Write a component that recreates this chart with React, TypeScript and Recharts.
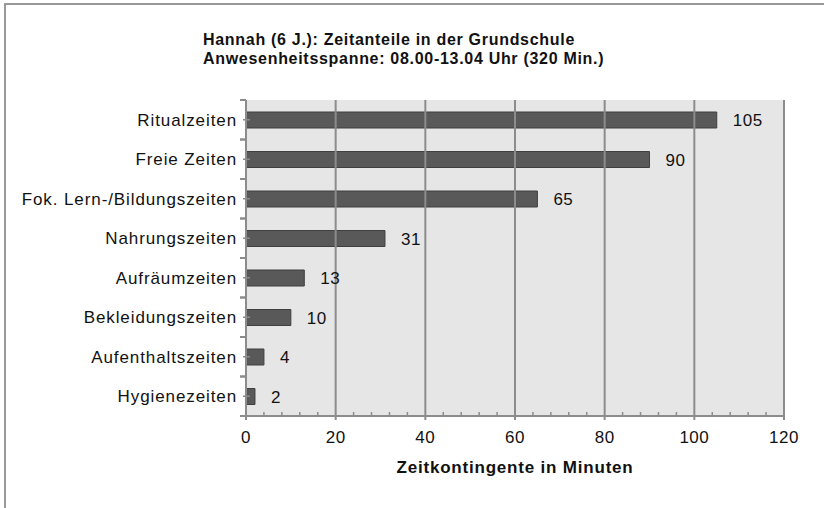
import { BarChart, Bar, XAxis, YAxis, CartesianGrid, ReferenceLine, LabelList } from 'recharts';

const categories = [
  'Ritualzeiten',
  'Freie Zeiten',
  'Fok. Lern-/Bildungszeiten',
  'Nahrungszeiten',
  'Aufräumzeiten',
  'Bekleidungszeiten',
  'Aufenthaltszeiten',
  'Hygienezeiten',
];
const minutes = [105, 90, 65, 31, 13, 10, 4, 2];
const xTicks = [0, 4, 8, 12, 16, 20, 24, 28, 32, 36, 40, 44, 48, 52, 56, 60, 64, 68, 72, 76, 80, 84, 88, 92, 96, 100, 104, 108, 112, 116, 120];
const majorTicks = [20, 40, 60, 80, 100, 120];
const titleLines = ['Hannah (6 J.): Zeitanteile in der Grundschule', 'Anwesenheitsspanne: 08.00-13.04 Uhr (320 Min.)'];
const xLabel = 'Zeitkontingente in Minuten';

const data = categories.map((name, i) => ({ name, value: minutes[i] }));

const W = 824;
const H = 508;
const M = { top: 100, right: 40, bottom: 62, left: 0 };
const YW = 246;
const XH = 30;
const plotH = H - M.top - M.bottom - XH;
const halfBand = plotH / categories.length / 2;

const grey = '#8c8c8c';
const font = "'Liberation Sans', Arial, sans-serif";

const XTick = (props: any) => {
  const { x, y, payload } = props;
  const major = payload.value % 20 === 0;
  return (
    <g>
      {major ? (
        <>
          <line x1={x} x2={x} y1={y} y2={y + 4} stroke={grey} strokeWidth={2} />
          <text x={x} y={y + 27} textAnchor="middle" fontSize={17} letterSpacing={0.5} fill="#111" fontFamily={font}>
            {payload.value}
          </text>
        </>
      ) : (
        <line x1={x} x2={x} y1={y} y2={y - 4} stroke={grey} strokeWidth={1.5} />
      )}
    </g>
  );
};

const YTick = (props: any) => {
  const { x, y, payload } = props;
  return (
    <g>
      <line x1={x - 3} x2={x + 4} y1={y} y2={y} stroke={grey} strokeWidth={1.5} />
      <line x1={x - 6} x2={x} y1={y - halfBand} y2={y - halfBand} stroke={grey} strokeWidth={2} />
      <line x1={x - 6} x2={x} y1={y + halfBand} y2={y + halfBand} stroke={grey} strokeWidth={2} />
      <text x={x - 9} y={y + 6} textAnchor="end" fontSize={17} letterSpacing={0.9} fill="#111" fontFamily={font}>
        {payload.value}
      </text>
    </g>
  );
};

export default function App() {
  return (
    <div style={{ position: 'absolute', left: 0, top: 0, width: W, height: H, background: '#fff' }}>
      <div
        style={{
          position: 'absolute',
          left: 4,
          top: 3,
          width: W - 4,
          height: H - 3,
          borderTop: '2px solid #999',
          borderLeft: '2px solid #999',
        }}
      />
      <svg style={{ position: 'absolute', left: 0, top: 0 }} width={W} height={90}>
        {titleLines.map((t, i) => (
          <text key={i} x={203} y={45 + i * 19} fontSize={16} fontWeight="bold" letterSpacing={0.7} fill="#111" fontFamily={font}>
            {t}
          </text>
        ))}
      </svg>
      <div style={{ position: 'absolute', left: 0, top: 0 }}>
        <BarChart width={W} height={H} data={data} layout="vertical" margin={M}>
          <CartesianGrid fill="#e6e6e6" horizontal={false} vertical={false} />
          <XAxis
            type="number"
            domain={[0, 120]}
            ticks={xTicks}
            interval={0}
            height={XH}
            tickSize={0}
            tickMargin={0}
            tickLine={false}
            tick={<XTick />}
            axisLine={{ stroke: grey, strokeWidth: 2 }}
          />
          <YAxis
            type="category"
            dataKey="name"
            width={YW}
            tickSize={0}
            tickMargin={0}
            tickLine={false}
            tick={<YTick />}
            interval={0}
            axisLine={{ stroke: grey, strokeWidth: 2 }}
          />
          {majorTicks.map((v) => (
            <ReferenceLine key={v} x={v} stroke={grey} strokeWidth={2} />
          ))}
          <Bar dataKey="value" fill="#595959" stroke="#3f3f3f" strokeWidth={1} barSize={16} isAnimationActive={false}>
            <LabelList dataKey="value" position="right" offset={16} fontSize={17} letterSpacing={0.5} fill="#111" fontFamily={font} />
          </Bar>
        </BarChart>
      </div>
      <svg style={{ position: 'absolute', left: 0, top: 450, pointerEvents: 'none' }} width={W} height={40}>
        <text x={(YW + W - M.right) / 2} y={23} textAnchor="middle" fontSize={17} fontWeight="bold" letterSpacing={0.8} fill="#111" fontFamily={font}>
          {xLabel}
        </text>
      </svg>
    </div>
  );
}
